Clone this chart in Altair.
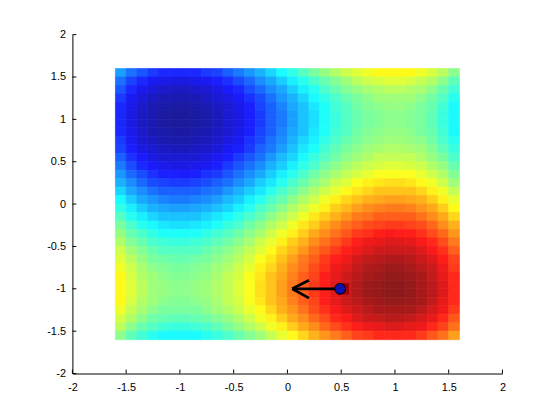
import altair as alt
import pandas as pd

# ---- data ----
TICKS = [-2, -1.5, -1, -0.5, 0, 0.5, 1, 1.5, 2]

X_CENTERS = [-1.55, -1.45, -1.35, -1.25, -1.15, -1.05, -0.95, -0.85, -0.75, -0.65, -0.55, -0.45,
             -0.35, -0.25, -0.15, -0.05, 0.05, 0.15, 0.25, 0.35, 0.45, 0.55, 0.65, 0.75,
             0.85, 0.95, 1.05, 1.15, 1.25, 1.35, 1.45, 1.55]
Y_CENTERS = [1.55, 1.45, 1.35, 1.25, 1.15, 1.05, 0.95, 0.85, 0.75, 0.65, 0.55, 0.45,
             0.35, 0.25, 0.15, 0.05, -0.05, -0.15, -0.25, -0.35, -0.45, -0.55, -0.65, -0.75,
             -0.85, -0.95, -1.05, -1.15, -1.25, -1.35, -1.45, -1.55]
CELL = 0.1

# surface level (0 = darkest blue, 100 = darkest red), rows from top (y=1.55) to bottom
Z = [
    [27,22,19,16,14,14,14,14,16,17,20,23,26,29,33,37,40,44,48,51,54,57,59,61,63,63,63,63,61,58,55,50],
    [22,17,14,11,10,9,9,10,11,13,15,18,21,25,28,32,36,39,43,46,49,52,55,57,58,59,59,58,56,54,50,45],
    [19,14,10,8,6,5,5,6,7,9,12,14,18,21,25,28,32,36,39,43,46,49,51,53,54,55,55,54,53,50,46,42],
    [16,11,8,5,3,3,3,3,5,7,9,12,15,18,22,26,29,33,37,40,43,46,48,50,52,52,52,52,50,47,44,39],
    [14,10,6,3,2,1,1,2,3,5,7,10,13,17,20,24,28,31,35,38,42,44,47,49,50,51,51,50,48,46,42,37],
    [14,9,5,3,1,0,0,1,2,4,7,9,13,16,20,23,27,31,34,38,41,44,46,48,49,50,50,49,48,45,41,37],
    [14,9,5,3,1,0,0,1,2,4,7,9,13,16,20,23,27,31,34,38,41,44,46,48,49,50,50,49,48,45,41,37],
    [14,10,6,3,2,1,1,2,3,5,7,10,13,17,20,24,28,31,35,38,42,44,47,49,50,51,51,50,48,46,42,37],
    [16,11,7,5,3,2,2,3,4,6,9,11,15,18,22,25,29,33,36,40,43,46,48,50,51,52,52,51,50,47,43,39],
    [17,13,9,7,5,4,4,5,6,8,11,13,16,20,23,27,31,35,38,42,45,48,50,52,53,54,54,53,52,49,45,41],
    [20,15,12,9,7,7,7,7,9,11,13,16,19,22,26,30,33,37,41,44,47,50,52,54,56,56,56,56,54,51,48,43],
    [23,18,14,12,10,9,9,10,11,13,16,19,22,25,29,32,36,40,43,47,50,53,55,57,58,59,59,58,57,54,51,46],
    [26,21,18,15,13,13,12,13,15,16,19,22,25,28,32,36,39,43,47,50,53,56,58,60,62,62,62,62,60,57,54,49],
    [29,25,21,18,17,16,16,17,18,20,22,25,28,32,35,39,43,46,50,53,57,59,62,64,65,66,66,65,63,61,57,52],
    [33,28,25,22,20,20,20,20,22,23,26,29,32,35,39,43,46,50,54,57,60,63,65,67,69,69,69,69,67,64,61,56],
    [37,32,28,26,24,23,23,24,25,27,30,32,36,39,43,46,50,54,57,61,64,67,69,71,72,73,73,72,71,68,64,60],
    [40,36,32,29,28,27,27,28,29,31,33,36,39,43,46,50,54,57,61,64,68,70,73,75,76,77,77,76,74,72,68,63],
    [44,39,36,33,31,31,31,31,33,35,37,40,43,46,50,54,57,61,65,68,71,74,77,78,80,80,80,80,78,75,72,67],
    [48,43,39,37,35,34,34,35,36,38,41,43,47,50,54,57,61,65,68,72,75,78,80,82,83,84,84,83,82,79,75,71],
    [51,46,43,40,38,38,38,38,40,42,44,47,50,53,57,61,64,68,72,75,78,81,84,85,87,88,87,87,85,82,79,74],
    [54,49,46,43,42,41,41,42,43,45,47,50,53,57,60,64,68,71,75,78,81,84,87,89,90,91,91,90,88,86,82,77],
    [57,52,49,46,44,44,44,44,46,48,50,53,56,59,63,67,70,74,78,81,84,87,89,91,93,93,93,93,91,88,85,80],
    [59,55,51,48,47,46,46,47,48,50,52,55,58,62,65,69,73,77,80,84,87,89,92,94,95,96,96,95,93,91,87,83],
    [61,57,53,50,49,48,48,49,50,52,54,57,60,64,67,71,75,78,82,85,89,91,94,96,97,98,98,97,95,93,89,84],
    [63,58,54,52,50,49,49,50,51,53,56,58,62,65,69,72,76,80,83,87,90,93,95,97,98,99,99,98,97,94,90,86],
    [63,59,55,52,51,50,50,51,52,54,56,59,62,66,69,73,77,80,84,87,91,93,96,98,99,100,100,99,97,95,91,86],
    [63,59,55,52,51,50,50,51,52,54,56,59,62,66,69,73,77,80,84,87,91,93,96,98,99,100,100,99,97,95,91,86],
    [63,58,54,52,50,49,49,50,51,53,56,58,62,65,69,72,76,80,83,87,90,93,95,97,98,99,99,98,97,94,90,86],
    [61,56,53,50,48,48,48,48,50,52,54,57,60,63,67,71,74,78,82,85,88,91,93,95,97,97,97,97,95,92,89,84],
    [58,54,50,47,46,45,45,46,47,49,51,54,57,61,64,68,72,75,79,82,86,88,91,93,94,95,95,94,92,90,86,81],
    [55,50,46,44,42,41,41,42,43,45,48,51,54,57,61,64,68,72,75,79,82,85,87,89,90,91,91,90,89,86,83,78],
    [50,45,42,39,37,37,37,37,39,41,43,46,49,52,56,60,63,67,71,74,77,80,83,84,86,86,86,86,84,81,78,73],
]

# arrow (step shown on the surface) and the current point
ARROW_X = [0.49, 0.045, 0.045]
ARROW_Y = [-1.0, -1.0, -1.0]
ARROW_X2 = [0.045, 0.2, 0.2]
ARROW_Y2 = [-1.0, -0.9, -1.11]
POINT_X = [0.49]
POINT_Y = [-1.0]
SQUARE_X = [0.52]
SQUARE_Y = [-1.0]

# ---- build table ----
rows = []
for yc, zrow in zip(Y_CENTERS, Z):
    for xc, v in zip(X_CENTERS, zrow):
        rows.append({"x0": xc - CELL / 2, "x1": xc + CELL / 2,
                     "y0": yc - CELL / 2, "y1": yc + CELL / 2, "v": v})
grid = pd.DataFrame(rows)

W, H = 434, 342
FONT = "Liberation Sans"

xs = alt.Scale(domain=[-2, 2], nice=False, zero=False)
ys = alt.Scale(domain=[-2, 2], nice=False, zero=False)

JET_STOPS = [0, 12.5, 37.5, 62.5, 87.5, 100]
JET_COLORS = ["#1a1a9b", "#1a1aff", "#1affff", "#ffff1a", "#ff1a1a", "#8c1a1a"]
jet = alt.Scale(domain=JET_STOPS, range=JET_COLORS, interpolate="rgb")

axis_common = dict(values=TICKS, ticks=False, tickSize=0, grid=False, title=None,
                   domain=True, domainColor="black", domainWidth=1, labelColor="black",
                   labelFont=FONT, labelFontSize=11, labelExpr="'' + datum.value",
                   labelFlush=False, labelOverlap=False)
xaxis = alt.Axis(labelPadding=8, **axis_common)
yaxis = alt.Axis(labelPadding=7, **axis_common)

heat = alt.Chart(grid).mark_rect(strokeWidth=0.7).encode(
    x=alt.X("x0:Q", scale=xs, axis=xaxis),
    x2="x1:Q",
    y=alt.Y("y0:Q", scale=ys, axis=yaxis),
    y2="y1:Q",
    color=alt.Color("v:Q", scale=jet, legend=None),
    stroke=alt.Stroke("v:Q", scale=jet, legend=None),
)

tick_df = pd.DataFrame({"t": TICKS})
xticks = alt.Chart(tick_df).mark_rule(color="black", strokeWidth=1).encode(
    x=alt.X("t:Q", scale=xs, axis=xaxis),
    y=alt.value(H), y2=alt.value(H - 4),
)
yticks = alt.Chart(tick_df).mark_rule(color="black", strokeWidth=1).encode(
    y=alt.Y("t:Q", scale=ys, axis=yaxis),
    x=alt.value(0), x2=alt.value(4),
)

square = alt.Chart(pd.DataFrame({"x": SQUARE_X, "y": SQUARE_Y})).mark_point(
    shape="square", filled=True, size=130, color="#a00000", opacity=1
).encode(x=alt.X("x:Q", scale=xs, axis=xaxis), y=alt.Y("y:Q", scale=ys, axis=yaxis))

arrow = alt.Chart(pd.DataFrame({"x": ARROW_X, "y": ARROW_Y, "x2": ARROW_X2, "y2": ARROW_Y2})).mark_rule(
    color="black", strokeWidth=2.8
).encode(
    x=alt.X("x:Q", scale=xs, axis=xaxis), x2="x2:Q",
    y=alt.Y("y:Q", scale=ys, axis=yaxis), y2="y2:Q",
)

point = alt.Chart(pd.DataFrame({"x": POINT_X, "y": POINT_Y})).mark_point(
    shape="circle", filled=True, size=120, fill="#1010b0", stroke="black",
    strokeWidth=1, opacity=1
).encode(x=alt.X("x:Q", scale=xs, axis=xaxis), y=alt.Y("y:Q", scale=ys, axis=yaxis))

chart = alt.layer(heat, xticks, yticks, square, arrow, point).properties(
    width=W, height=H,
    autosize=alt.AutoSizeParams(type="none"),
    padding={"left": 65, "top": 25, "right": 50, "bottom": 45},
    background="white",
).configure_view(stroke=None)

chart.save("out.html", embed_options={"renderer": "svg", "actions": False})
